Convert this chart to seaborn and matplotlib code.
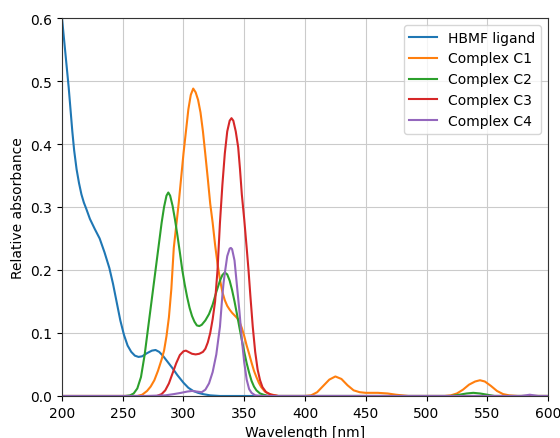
import numpy as np
import pandas as pd
import seaborn as sns
from matplotlib import pyplot as plt

# HBMF ligand
ligand_x = [200, 202, 204, 205.5, 207, 208.5, 210, 212, 214, 216, 218, 220, 223, 227, 231, 235, 239, 242,
            245, 248, 251, 254, 257, 260, 263, 266, 270, 274, 277, 280, 283, 287, 291, 295, 300, 304, 308,
            312, 316, 322, 330, 600]
ligand_y = [0.60, 0.56, 0.52, 0.49, 0.455, 0.42, 0.39, 0.36, 0.338, 0.32, 0.307, 0.297, 0.281, 0.265, 0.25,
            0.228, 0.203, 0.178, 0.149, 0.12, 0.097, 0.08, 0.07, 0.064, 0.062, 0.063, 0.068, 0.072, 0.073,
            0.07, 0.064, 0.054, 0.044, 0.033, 0.021, 0.013, 0.008, 0.005, 0.003, 0.001, 0.0, 0.0]

# Complex C1
c1_x = [200, 262, 266, 270, 273, 276, 279, 282, 284, 286, 288, 290, 292, 294, 296, 298, 300, 302, 304, 306,
        308, 310, 312, 314, 316, 318, 320, 322, 324, 326, 328, 330, 332, 334, 336, 338, 340, 342, 344, 346,
        348, 350, 352, 354, 356, 358, 360, 362, 364, 367, 371, 378, 400, 405, 410, 415, 420, 425, 430, 435,
        440, 445, 450, 460, 468, 475, 485, 515, 520, 525, 530, 535, 540, 544, 548, 553, 558, 563, 568, 575,
        600]
c1_y = [0.0, 0.0, 0.002, 0.008, 0.015, 0.025, 0.04, 0.058, 0.072, 0.095, 0.125, 0.17, 0.235, 0.27, 0.305,
        0.345, 0.385, 0.42, 0.455, 0.478, 0.488, 0.482, 0.47, 0.45, 0.42, 0.383, 0.345, 0.305, 0.275, 0.24,
        0.21, 0.185, 0.165, 0.152, 0.143, 0.137, 0.132, 0.128, 0.124, 0.118, 0.108, 0.095, 0.08, 0.067,
        0.053, 0.04, 0.03, 0.021, 0.014, 0.007, 0.003, 0.0, 0.0, 0.001, 0.006, 0.016, 0.026, 0.031, 0.027,
        0.017, 0.009, 0.006, 0.005, 0.005, 0.004, 0.002, 0.0, 0.0, 0.001, 0.004, 0.01, 0.018, 0.023, 0.025,
        0.023, 0.016, 0.008, 0.003, 0.001, 0.0, 0.0]

# Complex C2
c2_x = [200, 252, 256, 259, 262, 265, 268, 270, 272, 274, 276, 278, 280, 282, 284, 286, 287.5, 289, 291,
        293, 295, 297, 299, 301, 303, 305, 307, 309, 311, 313, 315, 318, 321, 324, 327, 330, 332, 334, 336,
        338, 340, 342, 344, 346, 348, 350, 352, 354, 356, 358, 360, 363, 366, 370, 520, 527, 533, 538.5,
        544, 550, 556, 600]
c2_y = [0.0, 0.0, 0.001, 0.004, 0.012, 0.03, 0.065, 0.095, 0.125, 0.155, 0.185, 0.215, 0.245, 0.275, 0.3,
        0.318, 0.323, 0.318, 0.302, 0.28, 0.255, 0.228, 0.2, 0.177, 0.157, 0.14, 0.127, 0.118, 0.112, 0.111,
        0.113, 0.12, 0.13, 0.145, 0.165, 0.183, 0.192, 0.196, 0.193, 0.183, 0.168, 0.15, 0.13, 0.109, 0.089,
        0.07, 0.052, 0.037, 0.024, 0.015, 0.009, 0.004, 0.002, 0.0, 0.0, 0.002, 0.004, 0.005, 0.004, 0.002,
        0.0, 0.0]

# Complex C3
c3_x = [200, 278, 282, 285, 288, 291, 294, 297, 300, 302, 304, 307, 310, 313, 316, 318, 320, 322, 324, 326,
        328, 330, 332, 334, 336, 338, 339.5, 341, 343, 345, 346.5, 348, 350, 352, 353.5, 355, 357, 359, 361,
        363, 365, 368, 372, 378, 600]
c3_y = [0.0, 0.0, 0.003, 0.009, 0.02, 0.036, 0.052, 0.065, 0.071, 0.072, 0.07, 0.067, 0.066, 0.067, 0.07,
        0.075, 0.085, 0.1, 0.122, 0.15, 0.2, 0.275, 0.335, 0.385, 0.42, 0.437, 0.441, 0.437, 0.42, 0.395,
        0.36, 0.32, 0.28, 0.235, 0.2, 0.16, 0.11, 0.07, 0.042, 0.025, 0.014, 0.006, 0.002, 0.0, 0.0]

# Complex C4
c4_x = [200, 270, 285, 292, 298, 303, 307, 311, 315, 318, 321, 324, 327, 330, 332, 333, 334, 336, 338, 339,
        340, 342, 344, 346, 348, 350, 352, 354, 356, 359, 365, 578, 585, 592, 600]
c4_y = [0.0, 0.0, 0.001, 0.003, 0.005, 0.007, 0.008, 0.007, 0.006, 0.01, 0.02, 0.038, 0.066, 0.11, 0.16,
        0.18, 0.195, 0.222, 0.234, 0.235, 0.233, 0.215, 0.175, 0.135, 0.09, 0.053, 0.026, 0.011, 0.005,
        0.001, 0.0, 0.0, 0.002, 0.0, 0.0]

series = [
    ('HBMF ligand', ligand_x, ligand_y),
    ('Complex C1', c1_x, c1_y),
    ('Complex C2', c2_x, c2_y),
    ('Complex C3', c3_x, c3_y),
    ('Complex C4', c4_x, c4_y),
]

frames = []
for name, xs, ys in series:
    frames.append(pd.DataFrame({'wavelength': xs, 'absorbance': ys, 'sample': name}))
df = pd.concat(frames, ignore_index=True)

fig = plt.figure(figsize=(5.6, 4.39), dpi=100)
ax = fig.add_axes([0.1107, 0.0957, 0.8679, 0.861])
sns.lineplot(df, x='wavelength', y='absorbance', hue='sample', palette=sns.color_palette('tab10', 5),
             estimator=None, sort=True, linewidth=1.5, ax=ax)

ax.set_xlim(200, 600)
ax.set_ylim(0, 0.6)
ax.set_xticks(np.arange(200, 601, 50))
ax.set_yticks(np.arange(0, 0.61, 0.1))
ax.grid(True, color='#cbcbcb', linewidth=0.8)
for spine in ax.spines.values():
    spine.set_color('#333333')
ax.set_xlabel('Wavelength [nm]')
ax.set_ylabel('Relative absorbance')
ax.legend(loc='upper right', title=None)

fig.savefig('out.png', dpi=100)
